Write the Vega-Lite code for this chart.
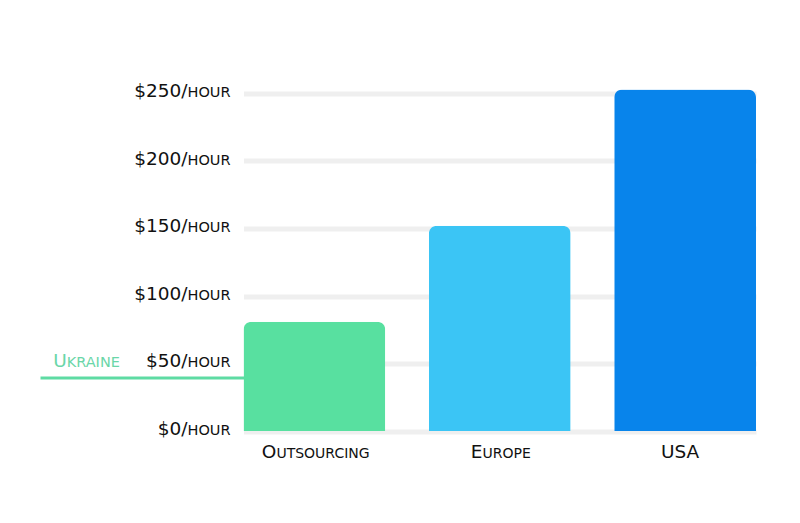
{
  "$schema": "https://vega.github.io/schema/vega-lite/v6.json",
  "width": 512.5,
  "height": 337.5,
  "autosize": {"type": "none"},
  "padding": {"left": 243.5, "top": 93.5, "right": 44, "bottom": 92},
  "background": "white",
  "config": {"view": {"stroke": null}, "font": "DejaVu Sans"},
  "datasets": {
    "rates": [
      {"region": "Outsourcing", "rate": 81},
      {"region": "Europe", "rate": 152},
      {"region": "USA", "rate": 253}
    ],
    "ukraine": [{"name": "Ukraine", "rate": 40}]
  },
  "layer": [
    {
      "data": {"name": "rates"},
      "mark": {"type": "bar", "cornerRadiusTopLeft": 8, "cornerRadiusTopRight": 8},
      "encoding": {
        "x": {
          "field": "region", "type": "nominal", "sort": null,
          "scale": {"paddingInner": 0.235, "paddingOuter": 0},
          "axis": {
            "orient": "bottom", "title": null, "ticks": false, "domain": false, "grid": false,
            "labelExpr": "datum.value == 'USA' ? 'USA' : upper(slice(datum.value, 0, 1))",
            "labelFontSize": 18.5, "labelColor": "#111111", "labelAngle": 0,
            "labelBaseline": "alphabetic", "labelPadding": 26,
            "labelAlign": {"condition": {"test": "datum.value === 'USA'", "value": "center"}, "value": "right"},
            "labelOffset": {"condition": [
              {"test": "datum.value === 'Outsourcing'", "value": -38},
              {"test": "datum.value === 'Europe'", "value": -17.3}
            ], "value": -5}
          }
        },
        "y": {
          "field": "rate", "type": "quantitative",
          "scale": {"domain": [0, 250], "nice": false},
          "axis": {
            "orient": "left", "title": null, "values": [0, 50, 100, 150, 200, 250],
            "labelExpr": "'$' + datum.value + '/'",
            "ticks": false, "domain": false, "grid": true, "gridColor": "#efefef", "gridWidth": 5,
            "labelFontSize": 18.5, "labelColor": "#111111", "labelAlign": "right",
            "labelBaseline": "alphabetic", "labelOffset": 3, "labelPadding": 56.5
          }
        },
        "color": {
          "field": "region", "type": "nominal",
          "scale": {"domain": ["Outsourcing", "Europe", "USA"], "range": ["#58e0a0", "#3bc5f5", "#0884eb"]},
          "legend": null
        }
      }
    },
    {
      "data": {"name": "rates"},
      "mark": {"type": "bar", "opacity": 0},
      "encoding": {
        "x": {
          "field": "region", "type": "nominal", "sort": null,
          "scale": {"paddingInner": 0.235, "paddingOuter": 0},
          "axis": {
            "orient": "bottom", "title": null, "ticks": false, "domain": false, "grid": false,
            "labelExpr": "datum.value == 'USA' ? '' : upper(slice(datum.value, 1))",
            "labelFontSize": 14, "labelColor": "#111111", "labelAngle": 0,
            "labelBaseline": "alphabetic", "labelPadding": 26, "labelAlign": "left",
            "labelOffset": {"condition": [
              {"test": "datum.value === 'Outsourcing'", "value": -38},
              {"test": "datum.value === 'Europe'", "value": -17.3}
            ], "value": -5}
          }
        },
        "y": {
          "field": "rate", "type": "quantitative",
          "scale": {"domain": [0, 250], "nice": false},
          "axis": {
            "orient": "left", "title": null, "values": [0, 50, 100, 150, 200, 250],
            "labelExpr": "'HOUR'",
            "ticks": false, "domain": false, "grid": false,
            "labelFontSize": 14.5, "labelColor": "#111111", "labelAlign": "right",
            "labelBaseline": "alphabetic", "labelOffset": 3, "labelPadding": 13.5
          }
        }
      }
    },
    {
      "data": {"name": "ukraine"},
      "mark": {"type": "point", "opacity": 0},
      "encoding": {
        "y": {
          "field": "rate", "type": "quantitative",
          "scale": {"domain": [0, 250], "nice": false},
          "axis": {
            "orient": "left", "title": null, "values": [40],
            "labelExpr": "'U'",
            "ticks": true, "tickSize": 203.5, "tickWidth": 3, "tickColor": "#5edba3",
            "domain": false, "grid": false,
            "labelFontSize": 18.5, "labelColor": "#6ad6a8", "labelAlign": "left",
            "labelBaseline": "alphabetic", "labelOffset": -10.3, "labelPadding": -12.7
          }
        }
      }
    },
    {
      "data": {"name": "ukraine"},
      "mark": {"type": "point", "opacity": 0},
      "encoding": {
        "y": {
          "field": "rate", "type": "quantitative",
          "scale": {"domain": [0, 250], "nice": false},
          "axis": {
            "orient": "left", "title": null, "values": [40],
            "labelExpr": "'KRAINE'",
            "ticks": false, "domain": false, "grid": false,
            "labelFontSize": 14.5, "labelColor": "#6ad6a8", "labelAlign": "left",
            "labelBaseline": "alphabetic", "labelOffset": -10.3, "labelPadding": 177.3
          }
        }
      }
    }
  ],
  "resolve": {"scale": {"x": "independent", "y": "independent"}}
}
